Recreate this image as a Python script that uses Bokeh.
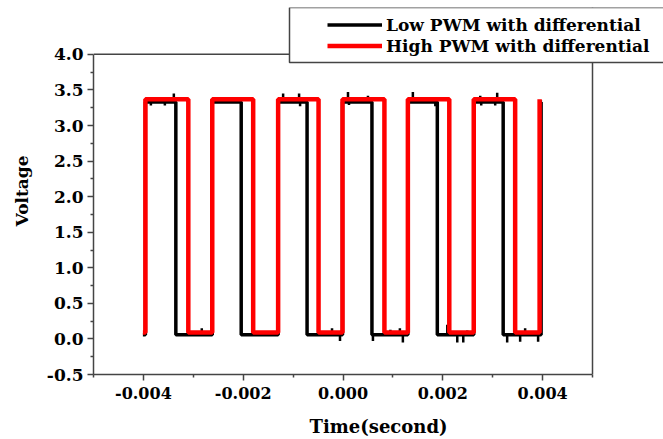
from bokeh.plotting import figure
from bokeh.models import Range1d, FixedTicker, Legend, LegendItem, BoxAnnotation, Span
from bokeh.embed import file_html
from bokeh.resources import INLINE

# ---- data ----
x_ticks = [-0.004, -0.002, 0.0, 0.002, 0.004]
x_tick_labels = ["-0.004", "-0.002", "0.000", "0.002", "0.004"]
x_minor = [-0.005, -0.003, -0.001, 0.001, 0.003, 0.005]
y_ticks = [-0.5, 0.0, 0.5, 1.0, 1.5, 2.0, 2.5, 3.0, 3.5, 4.0]
y_minor = [-0.25, 0.25, 0.75, 1.25, 1.75, 2.25, 2.75, 3.25, 3.75]
x_lo, x_hi = -0.005, 0.005
y_lo, y_hi = -0.5, 4.0

red_start, red_end = -0.00401, 0.00394
red_rise = [-0.00396, -0.00262, -0.00130, -0.00001, 0.00130, 0.00262, 0.00394]
red_fall = [-0.00310, -0.00180, -0.00049, 0.00083, 0.00213, 0.00345]
red_low, red_high = 0.09, 3.37

black_start, black_end = -0.00401, 0.00399
black_rise = [-0.00396, -0.00262, -0.00130, -0.00001, 0.00130, 0.00262, 0.00397]
black_fall = [-0.00335, -0.00204, -0.00072, 0.00058, 0.00189, 0.00321]
black_low, black_high = 0.06, 3.33

glitch_t = [-0.00339, -0.00120, -0.00088, 0.00010, 0.00050, 0.00140, 0.00275, 0.00309,
            -0.00385, -0.00357, -0.00086, 0.00012, 0.00185, 0.00277, 0.00305,
            -0.00283, -0.00022, 0.00114, 0.00209, 0.00249, 0.00365, 0.00095,
            -0.00006, 0.00120, 0.00229, 0.00241, 0.00329, 0.00391, 0.00355, 0.00060]
glitch_v = [3.45, 3.45, 3.45, 3.47, 3.42, 3.47, 3.42, 3.46,
            3.28, 3.28, 3.27, 3.29, 3.27, 3.28, 3.28,
            0.15, 0.15, 0.15, 0.20, 0.12, 0.15, 0.13,
            -0.03, -0.05, -0.05, -0.05, -0.05, -0.04, -0.04, -0.03]

labels = ["Low PWM with differential", "High PWM with differential"]


def square(start, rises, falls, end, lo, hi):
    xs, ys = [start], [lo]
    for i, r in enumerate(rises):
        xs += [r, r]
        ys += [lo, hi]
        if i < len(falls):
            xs += [falls[i], falls[i]]
            ys += [hi, lo]
    xs.append(end)
    ys.append(hi)
    return xs, ys


FONT = "DejaVu Serif"
AX = "#444444"

# frame: x 93..663 px, y 7..375 px; data box occupies x 93..592, y 54..375
PX_PER_X = 499 / (x_hi - x_lo)
PX_PER_Y = 321 / (y_hi - y_lo)
x_range = Range1d(x_lo, x_lo + 570 / PX_PER_X)
y_range = Range1d(y_lo, y_lo + 368 / PX_PER_Y)

p = figure(width=663, height=439, output_backend="svg", toolbar_location=None,
           x_range=x_range, y_range=y_range,
           min_border_left=93, min_border_right=0, min_border_top=7, min_border_bottom=64)
p.background_fill_color = "white"
p.border_fill_color = "white"
p.grid.visible = False
p.outline_line_color = None

bx, by = square(black_start, black_rise, black_fall, black_end, black_low, black_high)
rx, ry = square(red_start, red_rise, red_fall, red_end, red_low, red_high)

lb = p.line(bx, by, line_color="black", line_width=3.5)
gbase = [black_high if v > 1.7 else black_low for v in glitch_v]
p.segment(x0=glitch_t, y0=gbase, x1=glitch_t, y1=glitch_v, line_color="black", line_width=2.5)
lr = p.line(rx, ry, line_color="#ff0000", line_width=4.5)

# axes
p.xaxis.ticker = FixedTicker(ticks=x_ticks, minor_ticks=x_minor)
p.xaxis.major_label_overrides = {t: l for t, l in zip(x_ticks, x_tick_labels)}
p.xaxis.bounds = (x_lo, x_hi)
p.yaxis.ticker = FixedTicker(ticks=y_ticks, minor_ticks=y_minor)
p.yaxis.major_label_overrides = {t: f"{t:.1f}" for t in y_ticks}
p.yaxis.bounds = (y_lo, y_hi)

for ax in (p.xaxis[0], p.yaxis[0]):
    ax.axis_line_color = AX
    ax.axis_line_width = 1.5
    ax.major_tick_line_color = AX
    ax.minor_tick_line_color = AX
    ax.major_tick_line_width = 1.5
    ax.minor_tick_line_width = 1.5
    ax.major_tick_in = 0
    ax.major_tick_out = 6
    ax.minor_tick_in = 0
    ax.minor_tick_out = 3
    ax.major_label_text_font = FONT
    ax.major_label_text_font_style = "bold"
    ax.major_label_text_color = "black"
    ax.axis_label_text_font = FONT
    ax.axis_label_text_font_style = "bold"
    ax.axis_label_text_color = "black"

p.xaxis.major_label_text_font_size = "16px"
p.yaxis.major_label_text_font_size = "17px"
p.xaxis.major_label_standoff = 6
p.yaxis.major_label_standoff = 4
p.xaxis.axis_label = "Time(second)"
p.xaxis.axis_label_text_font_size = "18px"
p.xaxis.axis_label_standoff = 14
p.yaxis.axis_label = "Voltage"
p.yaxis.axis_label_text_font_size = "17px"
p.yaxis.axis_label_standoff = 12

# top and right edges of the data box
p.add_layout(Span(location=y_hi, dimension="width", line_color=AX, line_width=1.5))
p.add_layout(Span(location=x_hi, dimension="height", line_color=AX, line_width=1.5))

# legend box and legend
box = BoxAnnotation(left=196, right=590, bottom=312, top=367,
                    left_units="screen", right_units="screen", bottom_units="screen", top_units="screen",
                    fill_color="white", fill_alpha=1.0, line_color=AX, line_width=1.5, line_alpha=1.0)
p.add_layout(box)

legend = Legend(items=[LegendItem(label=labels[0], renderers=[lb]),
                       LegendItem(label=labels[1], renderers=[lr])],
                location=(234, 318), padding=0, margin=0, spacing=0,
                border_line_alpha=0, background_fill_alpha=0,
                glyph_width=55, glyph_height=21, label_height=21, label_standoff=4,
                label_text_font=FONT, label_text_font_style="bold", label_text_font_size="17px",
                label_text_color="black")
p.add_layout(legend)

open("out.html", "w").write(file_html(p, INLINE))
